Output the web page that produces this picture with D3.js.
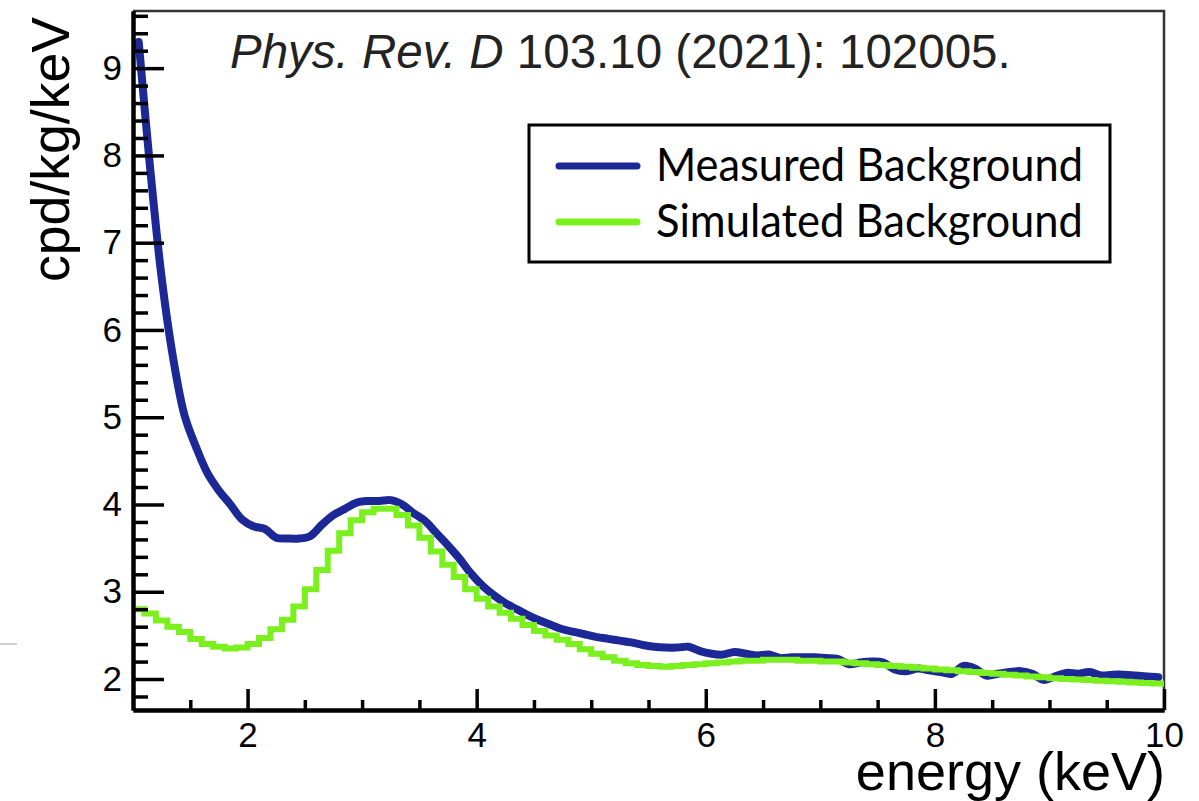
<!DOCTYPE html>
<html>
<head>
<meta charset="utf-8">
<script src="https://cdn.jsdelivr.net/npm/d3@7"></script>
<style>
  html, body { margin: 0; padding: 0; background: #fff; }
  svg { display: block; }
</style>
</head>
<body>
<svg id="chart" width="1199" height="801"></svg>
<script>
// Energy binning of both spectra (keV)
const energyMin = 1;
const energyMax = 10;
const binWidth = 0.1;

// Measured background rate per bin (cpd/kg/keV)
const measured = [
  9.30, 7.85, 6.60, 5.68, 5.02, 4.66, 4.36, 4.16, 4.00, 3.83,
  3.75, 3.72, 3.62, 3.61, 3.61, 3.64, 3.77, 3.88, 3.95, 4.02,
  4.04, 4.04, 4.05, 4.00, 3.90, 3.81, 3.67, 3.53, 3.38, 3.21,
  3.07, 2.96, 2.87, 2.80, 2.73, 2.67, 2.62, 2.57, 2.54, 2.51,
  2.48, 2.46, 2.44, 2.42, 2.39, 2.37, 2.36, 2.36, 2.37, 2.32,
  2.29, 2.28, 2.31, 2.29, 2.27, 2.28, 2.24, 2.25, 2.25, 2.25,
  2.24, 2.23, 2.17, 2.19, 2.20, 2.19, 2.11, 2.09, 2.12, 2.10,
  2.08, 2.06, 2.15, 2.12, 2.04, 2.06, 2.08, 2.09, 2.06, 1.99,
  2.03, 2.07, 2.06, 2.08, 2.04, 2.05, 2.05, 2.04, 2.03, 2.02
];

// Simulated background rate per bin (cpd/kg/keV)
const simulated = [
  2.80, 2.75, 2.67, 2.60, 2.54, 2.46, 2.40, 2.37, 2.35, 2.36,
  2.40, 2.47, 2.57, 2.68, 2.83, 3.03, 3.25, 3.47, 3.67, 3.82,
  3.91, 3.95, 3.95, 3.88, 3.76, 3.62, 3.46, 3.31, 3.17, 3.03,
  2.92, 2.83, 2.76, 2.69, 2.62, 2.55, 2.50, 2.45, 2.40, 2.34,
  2.29, 2.25, 2.21, 2.18, 2.16, 2.15, 2.14, 2.15, 2.16, 2.17,
  2.18, 2.19, 2.20, 2.21, 2.21, 2.22, 2.22, 2.22, 2.21, 2.21,
  2.20, 2.20, 2.19, 2.18, 2.17, 2.16, 2.15, 2.14, 2.13, 2.12,
  2.11, 2.10, 2.09, 2.08, 2.07, 2.06, 2.05, 2.04, 2.03, 2.02,
  2.01, 2.00, 1.995, 1.99, 1.98, 1.975, 1.97, 1.96, 1.955, 1.95
];

// Axis ticks
const xMajorTicks = [2, 4, 6, 8, 10];
const xMinorTicks = [1.5, 2.5, 3, 3.5, 4.5, 5, 5.5, 6.5, 7, 7.5, 8.5, 9, 9.5];
const yMajorTicks = [2, 3, 4, 5, 6, 7, 8, 9];
const yMinorTicks = [1.8, 2.2, 2.4, 2.6, 2.8, 3.2, 3.4, 3.6, 3.8, 4.2, 4.4, 4.6, 4.8,
  5.2, 5.4, 5.6, 5.8, 6.2, 6.4, 6.6, 6.8, 7.2, 7.4, 7.6, 7.8, 8.2, 8.4, 8.6, 8.8, 9.2, 9.4, 9.6];

const seriesNames = ["Measured Background", "Simulated Background"];
const seriesColors = ["#1b2896", "#7cf01e"];

const citationItalic = "Phys. Rev. D";
const citationRest = " 103.10 (2021): 102005.";
const xTitle = "energy (keV)";
const yTitle = "cpd/kg/keV";

// ---- layout ----
const plot = { left: 133, right: 1164, top: 11, bottom: 710 };
const yDomain = [1.645, 9.655];

const svg = d3.select("#chart");
svg.append("rect").attr("width", 1199).attr("height", 801).attr("fill", "#fff");

const x = d3.scaleLinear().domain([energyMin, energyMax]).range([plot.left, plot.right]);
const y = d3.scaleLinear().domain(yDomain).range([plot.bottom, plot.top]);

const nBins = measured.length;
const centers = d3.range(nBins).map(i => energyMin + (i + 0.5) * binWidth);
const lowEdges = d3.range(nBins).map(i => energyMin + i * binWidth);

// small light mark at the far left
svg.append("line")
  .attr("x1", 0).attr("x2", 17).attr("y1", 644).attr("y2", 644)
  .attr("stroke", "#cfcfcf").attr("stroke-width", 2);

// frame: top and right borders
svg.append("path")
  .attr("d", `M${plot.left},${plot.top}H${plot.right}V${plot.bottom}`)
  .attr("fill", "none").attr("stroke", "#333").attr("stroke-width", 2.5);

// ---- curves ----
svg.append("clipPath").attr("id", "plotclip")
  .append("rect")
  .attr("x", plot.left).attr("y", plot.top)
  .attr("width", plot.right - plot.left + 3).attr("height", plot.bottom - plot.top);

const gCurves = svg.append("g").attr("clip-path", "url(#plotclip)");

const measuredLine = d3.line()
  .x((d, i) => x(centers[i]))
  .y(d => y(d))
  .curve(d3.curveCatmullRom.alpha(0.5));

gCurves.append("path")
  .datum(measured)
  .attr("d", measuredLine)
  .attr("fill", "none")
  .attr("stroke", seriesColors[0])
  .attr("stroke-width", 8)
  .attr("stroke-linejoin", "round")
  .attr("stroke-linecap", "round");

const simPoints = simulated.map((v, i) => [lowEdges[i], v]);
simPoints.push([energyMax, simulated[nBins - 1]]);

gCurves.append("path")
  .datum(simPoints)
  .attr("d", d3.line().x(d => x(d[0])).y(d => y(d[1])).curve(d3.curveStepAfter))
  .attr("fill", "none")
  .attr("stroke", seriesColors[1])
  .attr("stroke-width", 6)
  .attr("stroke-linejoin", "miter");

// ---- axes ----
const tickFont = "'Liberation Sans', Arial, Helvetica, sans-serif";

function styleAxis(g, width) {
  g.select(".domain").attr("stroke", "#000").attr("stroke-width", width);
  g.selectAll(".tick line").attr("stroke", "#000").attr("stroke-width", 3.5);
  g.selectAll(".tick text")
    .attr("fill", "#000")
    .style("font-family", tickFont)
    .style("font-size", "35px");
}

// x minor ticks
svg.append("g")
  .attr("transform", `translate(0,${plot.bottom})`)
  .call(d3.axisBottom(x).tickValues(xMinorTicks).tickSize(-10).tickSizeOuter(0).tickFormat(""))
  .call(g => styleAxis(g, 4));

// x major ticks with labels
svg.append("g")
  .attr("transform", `translate(0,${plot.bottom})`)
  .call(d3.axisBottom(x).tickValues(xMajorTicks).tickSize(-21).tickSizeOuter(0).tickPadding(12).tickFormat(d3.format("d")))
  .call(g => styleAxis(g, 4));

// y minor ticks
svg.append("g")
  .attr("transform", `translate(${plot.left},0)`)
  .call(d3.axisLeft(y).tickValues(yMinorTicks).tickSize(-15).tickSizeOuter(0).tickFormat(""))
  .call(g => styleAxis(g, 4));

// y major ticks with labels
svg.append("g")
  .attr("transform", `translate(${plot.left},0)`)
  .call(d3.axisLeft(y).tickValues(yMajorTicks).tickSize(-31).tickSizeOuter(0).tickPadding(11).tickFormat(d3.format("d")))
  .call(g => styleAxis(g, 4));

// axis titles
svg.append("text")
  .attr("x", 1165).attr("y", 790)
  .attr("text-anchor", "end")
  .style("font-family", tickFont)
  .style("font-size", "54px")
  .attr("fill", "#000")
  .text(xTitle);

svg.append("text")
  .attr("transform", "translate(69,17) rotate(-90)")
  .attr("text-anchor", "end")
  .attr("textLength", 265)
  .attr("lengthAdjust", "spacingAndGlyphs")
  .style("font-family", tickFont)
  .style("font-size", "53px")
  .attr("fill", "#000")
  .text(yTitle);

// citation
const cite = svg.append("text")
  .attr("x", 230).attr("y", 68)
  .style("font-family", tickFont)
  .style("font-size", "47.5px")
  .attr("fill", "#222");
cite.append("tspan").style("font-style", "italic").text(citationItalic);
cite.append("tspan").text(citationRest);

// ---- legend ----
const legend = svg.append("g");
legend.append("rect")
  .attr("x", 529).attr("y", 125)
  .attr("width", 1110 - 529).attr("height", 262 - 125)
  .attr("fill", "#fff").attr("stroke", "#000").attr("stroke-width", 3);

const legendRows = [166, 222];
seriesNames.forEach((name, i) => {
  legend.append("line")
    .attr("x1", 559).attr("x2", 637)
    .attr("y1", legendRows[i]).attr("y2", legendRows[i])
    .attr("stroke", seriesColors[i])
    .attr("stroke-width", 7)
    .attr("stroke-linecap", "round");
  legend.append("text")
    .attr("x", 656).attr("y", legendRows[i] + 15)
    .attr("textLength", 427)
    .attr("lengthAdjust", "spacingAndGlyphs")
    .style("font-family", "Lato, 'Open Sans', sans-serif")
    .style("font-size", "46px")
    .attr("fill", "#000")
    .text(name);
});
</script>
</body>
</html>
